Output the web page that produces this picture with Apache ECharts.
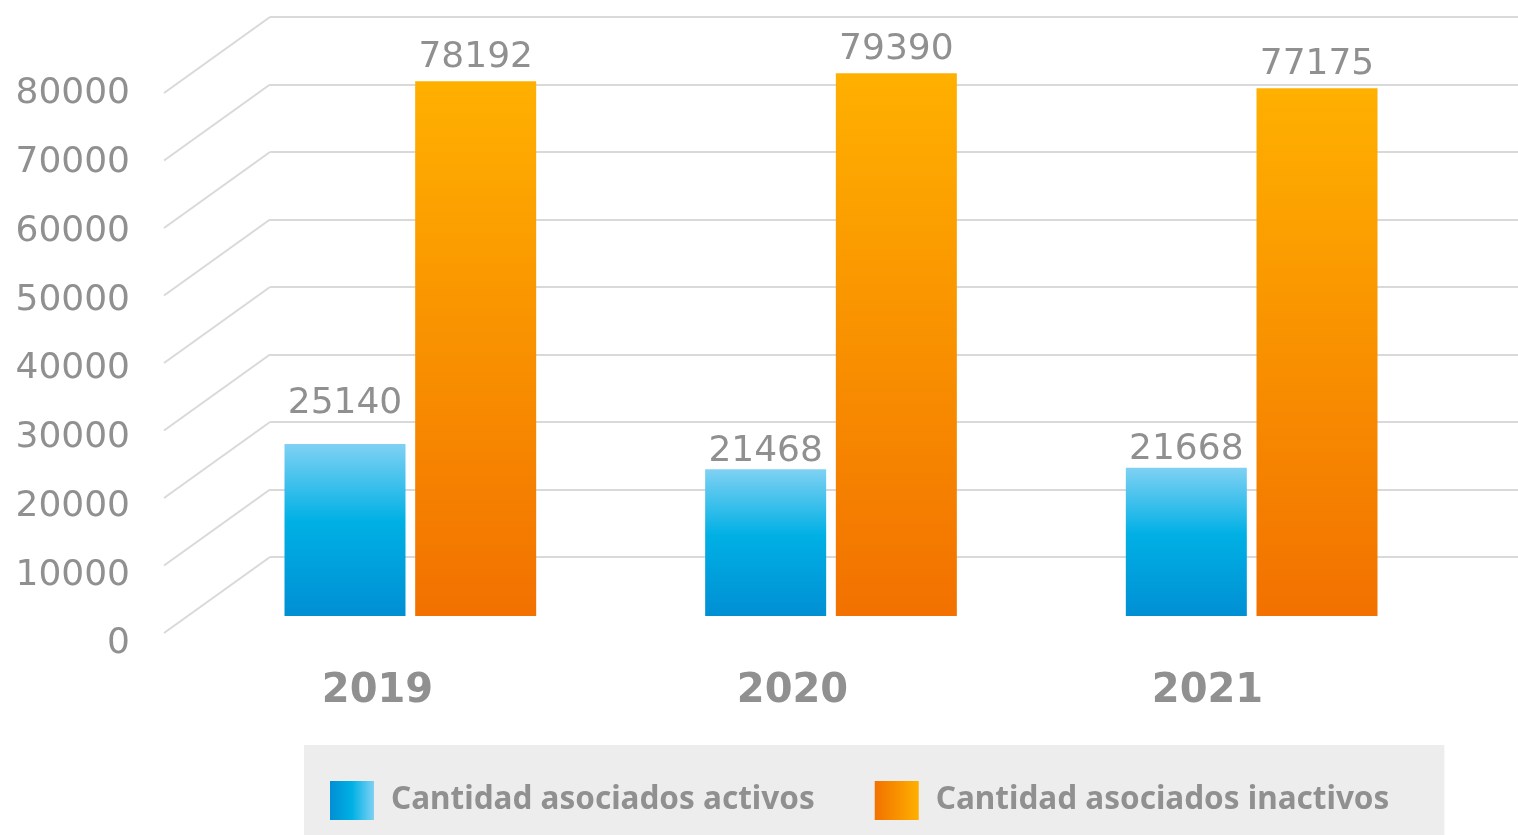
<!DOCTYPE html>
<html>
<head>
<meta charset="utf-8">
<script src="https://cdn.jsdelivr.net/npm/echarts@6/dist/echarts.min.js"></script>
<style>
  html, body { margin: 0; padding: 0; background: #fff; }
  #main { width: 1518px; height: 835px; }
</style>
</head>
<body>
<div id="main"></div>
<script>
var years = ['2019', '2020', '2021'];
var activos = [25140, 21468, 21668];
var inactivos = [78192, 79390, 77175];
var seriesNames = ['Cantidad asociados activos', 'Cantidad asociados inactivos'];
var yMax = 80000;
var yStep = 10000;

var chart = echarts.init(document.getElementById('main'));

var gridColor = '#d9d9d9';
var textGray = '#909090';
var numFont = 'DejaVu Sans';

// tick values for the perspective lines
var ticks = [];
for (var v = 0; v <= yMax; v += yStep) ticks.push([0, v]);

var blueV = new echarts.graphic.LinearGradient(0, 0, 0, 1, [
  { offset: 0, color: '#7fd1f3' },
  { offset: 0.45, color: '#00b0e5' },
  { offset: 1, color: '#008fd3' }
]);
var orangeV = new echarts.graphic.LinearGradient(0, 0, 0, 1, [
  { offset: 0, color: '#ffb000' },
  { offset: 1, color: '#f27100' }
]);
var blueH = new echarts.graphic.LinearGradient(0, 0, 1, 0, [
  { offset: 0, color: '#008fd3' },
  { offset: 0.5, color: '#00b0e5' },
  { offset: 1, color: '#7fd1f3' }
]);
var orangeH = new echarts.graphic.LinearGradient(0, 0, 1, 0, [
  { offset: 0, color: '#f27100' },
  { offset: 1, color: '#ffb000' }
]);

var option = {
  backgroundColor: '#ffffff',
  animation: false,
  grid: [
    // back wall
    { left: 270, right: 0, top: 17, bottom: 278 },
    // front labels
    { left: 140, width: 10, top: 94, bottom: 191 },
    // bars
    { left: 200, right: 56, top: 69, bottom: 219 },
    // category labels (front)
    { left: 170, right: 103, top: 600, bottom: 175 }
  ],
  xAxis: [
    { gridIndex: 0, type: 'value', min: 0, max: 1, show: false },
    { gridIndex: 1, type: 'value', show: false },
    { gridIndex: 2, type: 'category', data: years, show: false },
    {
      gridIndex: 3, type: 'category', data: years,
      axisLine: { show: false }, axisTick: { show: false },
      axisLabel: { margin: 12, color: textGray, fontFamily: numFont, fontWeight: 'bold', fontSize: 40 }
    }
  ],
  yAxis: [
    {
      gridIndex: 0, type: 'value', min: 0, max: yMax, interval: yStep,
      axisLine: { show: false }, axisTick: { show: false }, axisLabel: { show: false },
      splitLine: { lineStyle: { color: gridColor, width: 2 } }
    },
    {
      gridIndex: 1, type: 'value', min: 0, max: yMax, interval: yStep,
      axisLine: { show: false }, axisTick: { show: false }, splitLine: { show: false },
      axisLabel: {
        margin: 10, color: textGray, fontFamily: numFont, fontSize: 36,
        formatter: function (val) { return String(val); }
      }
    },
    { gridIndex: 2, type: 'value', min: 0, max: yMax, show: false },
    { gridIndex: 3, type: 'value', show: false }
  ],
  legend: {
    left: 304,
    bottom: 0,
    padding: [36, 55, 15, 26],
    backgroundColor: '#ededed',
    itemWidth: 44,
    itemHeight: 39,
    itemGap: 60,
    icon: 'rect',
    textStyle: {
      color: textGray, fontFamily: 'Noto Sans', fontWeight: 'bold', fontSize: 31.5,
      padding: [0, 0, 0, 12]
    },
    data: [
      { name: seriesNames[0], itemStyle: { color: blueH } },
      { name: seriesNames[1], itemStyle: { color: orangeH } }
    ]
  },
  series: [
    {
      type: 'custom',
      xAxisIndex: 0, yAxisIndex: 0,
      silent: true,
      z: 1,
      data: ticks,
      renderItem: function (params, api) {
        var p = api.coord([api.value(0), api.value(1)]);
        return {
          type: 'line',
          shape: { x1: p[0] - 106, y1: p[1] + 76, x2: p[0], y2: p[1] },
          style: { stroke: gridColor, lineWidth: 2 }
        };
      }
    },
    {
      name: seriesNames[0],
      type: 'bar',
      xAxisIndex: 2, yAxisIndex: 2,
      barWidth: 121,
      barGap: '8%',
      itemStyle: { color: blueV },
      label: { show: true, position: 'top', distance: 0, color: textGray, fontFamily: numFont, fontSize: 36 },
      data: activos.map(function (v, i) {
        return i === 0 ? { value: v, label: { distance: 22 } } : v;
      })
    },
    {
      name: seriesNames[1],
      type: 'bar',
      xAxisIndex: 2, yAxisIndex: 2,
      barWidth: 121,
      barGap: '8%',
      itemStyle: { color: orangeV },
      label: { show: true, position: 'top', distance: 6, color: textGray, fontFamily: numFont, fontSize: 36 },
      data: inactivos
    }
  ]
};

chart.setOption(option);
</script>
</body>
</html>
